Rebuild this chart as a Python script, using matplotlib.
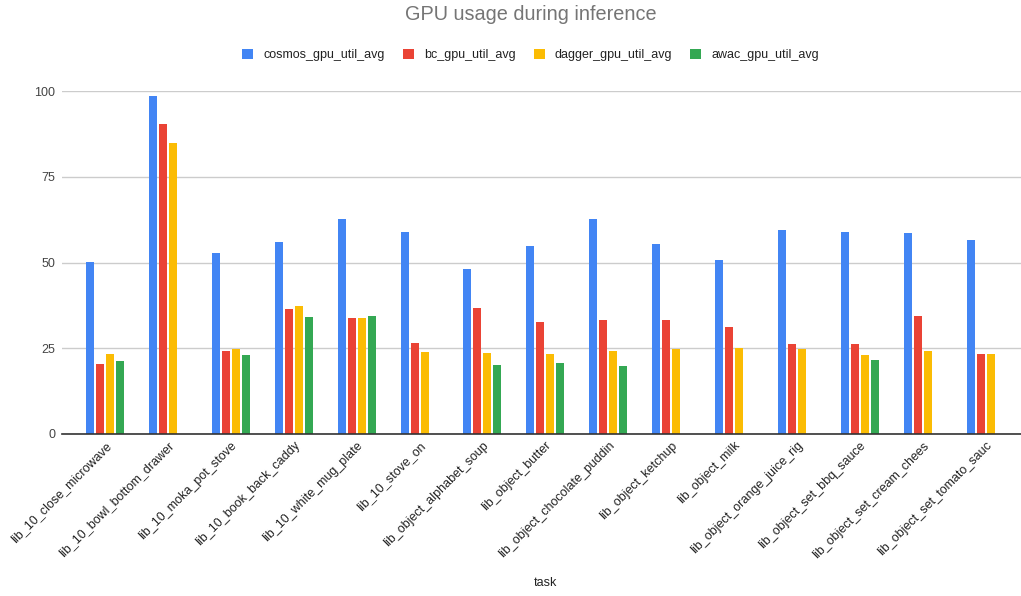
import numpy as np
import matplotlib
matplotlib.use("Agg")
import matplotlib.pyplot as plt
from matplotlib.patches import Patch

plt.rcParams['font.family'] = ['Liberation Sans', 'DejaVu Sans']

tasks = [
    "lib_10_close_microwave", "lib_10_bowl_bottom_drawer", "lib_10_moka_pot_stove",
    "lib_10_book_back_caddy", "lib_10_white_mug_plate", "lib_10_stove_on",
    "lib_object_alphabet_soup", "lib_object_butter", "lib_object_chocolate_puddin",
    "lib_object_ketchup", "lib_object_milk", "lib_object_orange_juice_rig",
    "lib_object_set_bbq_sauce", "lib_object_set_cream_chees", "lib_object_set_tomato_sauc",
]
cosmos = [50.2, 98.6, 52.9, 56.1, 62.6, 58.9, 48.2, 54.8, 62.6, 55.3, 50.8, 59.6, 59.0, 58.5, 56.7]
bc = [20.5, 90.4, 24.3, 36.4, 33.8, 26.5, 36.7, 32.6, 33.2, 33.2, 31.3, 26.1, 26.1, 34.3, 23.4]
dagger = [23.4, 84.8, 24.9, 37.3, 33.8, 24.0, 23.7, 23.2, 24.3, 24.7, 25.2, 24.9, 22.9, 24.3, 23.4]
awac = [21.4, None, 23.0, 34.0, 34.3, None, 20.2, 20.8, 19.9, None, None, None, 21.7, None, None]

series = [
    ("cosmos_gpu_util_avg", cosmos, "#4285F4"),
    ("bc_gpu_util_avg", bc, "#EA4335"),
    ("dagger_gpu_util_avg", dagger, "#FBBC04"),
    ("awac_gpu_util_avg", awac, "#34A853"),
]

W, H = 1021, 596
fig = plt.figure(figsize=(W / 100, H / 100), dpi=100)
ax = fig.add_axes([62 / W, (H - 434) / H, (W - 62) / W, (434 - 91) / H])

x = np.arange(len(tasks))
step = 0.159
bw = 0.127
for i, (name, vals, color) in enumerate(series):
    v = np.array([np.nan if a is None else a for a in vals], dtype=float)
    mask = ~np.isnan(v)
    ax.bar(x[mask] + (i - 1.5) * step, v[mask], width=bw, color=color,
           zorder=3, linewidth=0)

ax.set_xlim(-0.684, 14.56)
ax.set_ylim(0, 100)
ax.set_yticks([0, 25, 50, 75, 100])
ax.yaxis.grid(True, color="#cccccc", linewidth=1)
ax.set_axisbelow(True)
for s in ["top", "right", "left"]:
    ax.spines[s].set_visible(False)
ax.spines["bottom"].set_color("#333333")
ax.spines["bottom"].set_linewidth(1.2)
ax.spines["bottom"].set_zorder(4)
ax.tick_params(axis="y", length=0, pad=5, labelsize=9, labelcolor="#444444")
ax.tick_params(axis="x", length=0, pad=4, labelsize=9, labelcolor="#222222")
ax.set_xticks(x)
ax.set_xticklabels(tasks, rotation=45, ha="right", rotation_mode="anchor")

fig.text(531 / W, 1 - 15 / H, "GPU usage during inference", ha="center", va="center",
         fontsize=14.3, color="#757575")
fig.text(545 / W, 1 - 583 / H, "task", ha="center", va="center",
         fontsize=9, color="#222222")

handles = [Patch(facecolor=c, edgecolor="none", label=n) for n, _, c in series]
fig.legend(handles=handles, loc="center", bbox_to_anchor=(530.5 / W, 1 - 55 / H),
           ncol=4, frameon=False, fontsize=9, handlelength=0.88, handleheight=0.88,
           handletextpad=0.8, columnspacing=1.45, labelcolor="#222222")

fig.savefig("out.png", dpi=100)
